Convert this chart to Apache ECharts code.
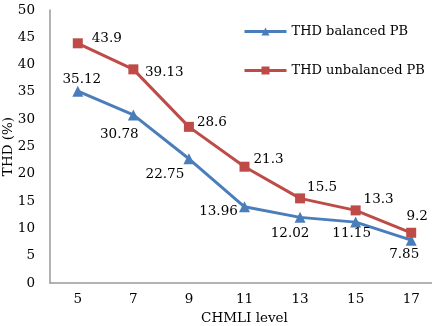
<!DOCTYPE html>
<html>
<head>
<meta charset="utf-8">
<script src="https://cdn.jsdelivr.net/npm/echarts@6/dist/echarts.min.js"></script>
<style>
  html, body { margin: 0; padding: 0; background: #fff; }
  #chart { width: 432px; height: 326px; }
</style>
</head>
<body>
<div id="chart"></div>
<script>
const levels = ['5', '7', '9', '11', '13', '15', '17']
const balanced = [35.12, 30.78, 22.75, 13.96, 12.02, 11.15, 7.85]
const unbalanced = [43.9, 39.13, 28.6, 21.3, 15.5, 13.3, 9.2]
// label offsets (dx, dy) from the marker
const balancedOffsets = [[4, -12], [-14, 20], [-24, 16], [-26, 5], [-10, 16], [-4, 11], [-7, 14]]
const unbalancedOffsets = [[29, -5], [31, 3], [23, -4], [24, -7], [22, -11], [23, -11], [6, -16]]

const font = 'DejaVu Serif'
const fs = 13.5
const blue = '#4a7ebb'
const red = '#be4b48'

const withLabels = (vals, offs) => vals.map((v, i) => ({
  value: v,
  label: { offset: offs[i] }
}))

const chart = echarts.init(document.getElementById('chart'))
chart.setOption({
  animation: false,
  textStyle: { fontFamily: font },
  grid: { left: 50, right: -7, top: 10, bottom: 43, containLabel: false, outerBoundsMode: 'none' },
  legend: {
    orient: 'vertical',
    left: 243,
    top: 25,
    padding: 0,
    itemWidth: 42,
    itemHeight: 10,
    itemGap: 26,
    lineStyle: { width: 3 },
    textStyle: { fontFamily: font, fontSize: 13, color: '#000' },
    data: ['THD balanced PB', 'THD unbalanced PB']
  },
  xAxis: {
    type: 'category',
    data: levels,
    name: 'CHMLI level',
    nameLocation: 'middle',
    nameGap: 28,
    nameMoveOverlap: false,
    nameTextStyle: { fontFamily: font, fontSize: fs, color: '#000' },
    axisLine: { lineStyle: { color: '#999', width: 1.5 } },
    axisTick: { show: false },
    axisLabel: { color: '#000', fontSize: fs, margin: 9, fontFamily: font }
  },
  yAxis: {
    type: 'value',
    min: 0,
    max: 50,
    interval: 5,
    name: 'THD (%)',
    nameLocation: 'middle',
    nameGap: 35,
    nameMoveOverlap: false,
    nameTextStyle: { fontFamily: font, fontSize: fs, color: '#000' },
    axisLine: { show: true, lineStyle: { color: '#999', width: 1.5 } },
    axisTick: { show: false },
    splitLine: { show: false },
    axisLabel: { color: '#000', fontSize: fs, margin: 15, fontFamily: font }
  },
  series: [
    {
      name: 'THD balanced PB',
      type: 'line',
      data: withLabels(balanced, balancedOffsets),
      symbol: 'triangle',
      symbolSize: 11,
      lineStyle: { color: blue, width: 3 },
      itemStyle: { color: blue },
      label: { show: true, position: 'inside', color: '#000', fontSize: fs, fontFamily: font }
    },
    {
      name: 'THD unbalanced PB',
      type: 'line',
      data: withLabels(unbalanced, unbalancedOffsets),
      symbol: 'rect',
      symbolSize: 10,
      lineStyle: { color: red, width: 3 },
      itemStyle: { color: red },
      label: { show: true, position: 'inside', color: '#000', fontSize: fs, fontFamily: font }
    }
  ]
})
</script>
</body>
</html>
